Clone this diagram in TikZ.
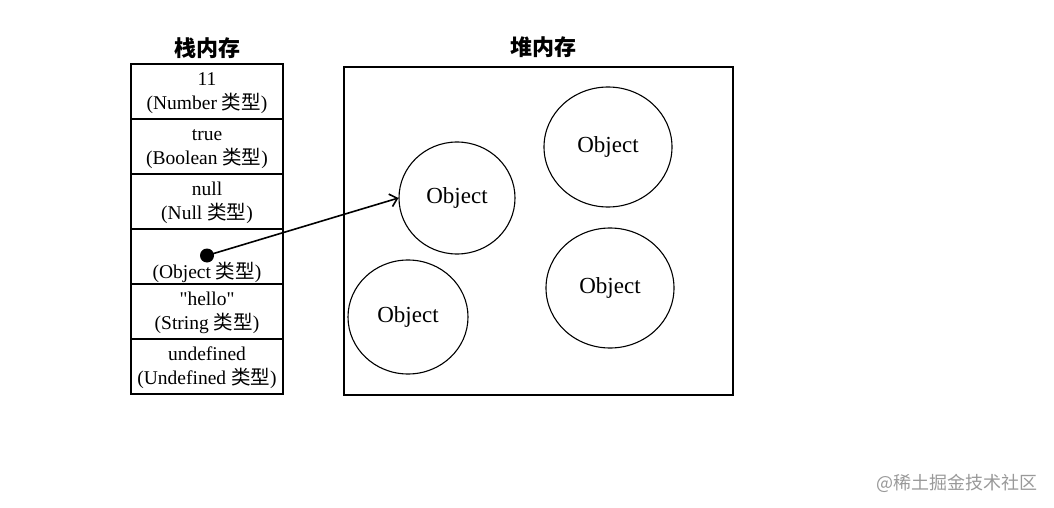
\documentclass[tikz,border=0pt]{standalone}
\usepackage{fontspec}
\setmainfont{Liberation Serif}
\newfontfamily\quotefont{Liberation Serif}
\newfontfamily\cjk{Noto Sans CJK SC}
\usetikzlibrary{positioning,arrows.meta,shapes.geometric}

\begin{document}
\begin{tikzpicture}[x=1pt,y=-1pt,
  cell/.style={draw,line width=1.3pt,minimum width=152pt,minimum height=55pt,
    inner sep=0pt,outer sep=0pt,align=center,font=\fontsize{19.5}{22}\selectfont},
  obj/.style={draw,ellipse,line width=1.1pt,inner sep=0pt,font=\fontsize{23}{26}\selectfont},
  title/.style={font=\cjk\bfseries\fontsize{22}{26}\selectfont}]

% Page size
\useasboundingbox (0,0) rectangle (1054,508);

% Stack memory
\node[cell] (num) at (207,91.5) {\strut 11\\(Number {\cjk 类型})};
\node[cell,below=0pt of num] (bool) {\strut true\\(Boolean {\cjk 类型})};
\node[cell,below=0pt of bool] (nul) {\strut null\\(Null {\cjk 类型})};
\node[cell,below=0pt of nul] (objref) {\strut\\[8pt](Object {\cjk 类型})};
\node[cell,below=0pt of objref] (str) {\strut{\quotefont"}hello{\quotefont"}\\(String {\cjk 类型})};
\node[cell,below=0pt of str] (undef) {\strut undefined\\(Undefined {\cjk 类型})};
\node[title,above=2pt of num] (stacktitle) {栈内存};

% Heap memory
\node[draw,line width=1.3pt,minimum width=389pt,minimum height=328pt,inner sep=0pt] (heap) at (538.5,231) {};
\node[title] (heaptitle) at (543,47) {堆内存};

% Objects in the heap
\node[obj,minimum width=116pt,minimum height=112pt] (obja) at (457,198) {Object};
\node[obj,minimum width=128pt,minimum height=120pt] (objb) at (608,147) {Object};
\node[obj,minimum width=128pt,minimum height=120pt] (objc) at (610,288) {Object};
\node[obj,minimum width=120pt,minimum height=114pt] (objd) at (408,317) {Object};

% Reference from the stack to the heap
\node[circle,fill,inner sep=0pt,minimum size=14pt] (dot) at ([yshift=1pt]objref.center) {};
\draw[line width=1.6pt,-{Straight Barb[length=7pt,width=13pt]}] (dot.center) -- (obja.west);

% Watermark
\node[text=black!40,font=\cjk\fontsize{18}{20}\selectfont] (mark) at (957,483) {@稀土掘金技术社区};

\end{tikzpicture}
\end{document}
